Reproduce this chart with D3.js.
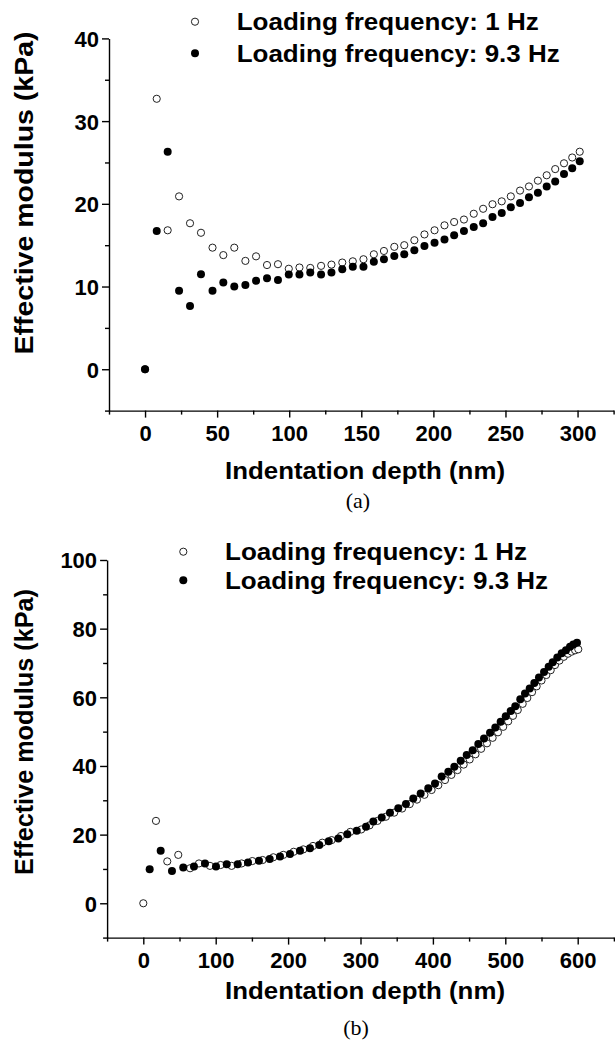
<!DOCTYPE html>
<html>
<head>
<meta charset="utf-8">
<script src="https://cdn.jsdelivr.net/npm/d3@7"></script>
<style>
  body { margin: 0; background: #fff; }
  svg text { font-family: Arial, "Liberation Sans", sans-serif; }
</style>
</head>
<body>
<script>
// ---- data, panel (a): both series share the same depths ----
var depthA = [0, 8.1, 15.7, 23.6, 31.2, 38.8, 46.8, 54.3, 61.9, 69.6, 77.0, 84.6, 92.2, 99.7,
  107.1, 114.6, 122.1, 129.3, 136.8, 144.1, 151.5, 158.7, 165.7, 172.9, 179.8, 186.8, 193.8,
  200.8, 207.7, 214.4, 221.2, 228.0, 234.5, 241.0, 247.4, 253.7, 260.1, 266.3, 272.5, 278.6,
  284.5, 290.6, 296.3, 301.5];
var modulusA1Hz = [0, 32.7, 16.8, 20.9, 17.65, 16.5, 14.7, 13.8, 14.7, 13.1, 13.65, 12.6, 12.7,
  12.15, 12.3, 12.25, 12.5, 12.65, 12.9, 13.05, 13.3, 13.9, 14.3, 14.8, 15.0, 15.6, 16.3, 16.8,
  17.4, 17.8, 18.1, 18.8, 19.4, 19.95, 20.3, 20.9, 21.6, 22.1, 22.8, 23.45, 24.2, 24.9, 25.6, 26.3];
var modulusA93Hz = [0, 16.7, 26.3, 9.5, 7.65, 11.5, 9.5, 10.5, 10.0, 10.2, 10.7, 11.0, 10.8,
  11.45, 11.45, 11.7, 11.45, 11.7, 12.1, 12.4, 12.4, 13.0, 13.3, 13.7, 13.9, 14.4, 14.9, 15.3,
  15.7, 16.2, 16.7, 17.2, 17.65, 18.4, 18.9, 19.6, 20.1, 20.8, 21.35, 22.1, 22.7, 23.6, 24.3, 25.15];

// ---- data, panel (b) ----
var depthB1Hz = [0, 17.5, 33.1, 48.3, 64.6, 76.9, 92.1, 106.8, 122, 135.8, 150.6, 164.8, 179.6,
  193.4, 207.7, 221, 234.4, 247.2, 260.1, 273, 285.9, 301, 312.5, 323.5, 335, 346.5, 357.5, 368,
  378, 388.3, 398.2, 407.5, 416.7, 425.5, 434, 442.5, 450.8, 458.8, 466.6, 474.7, 482.5, 489.9,
  497.1, 504, 510.6, 517.2, 524, 530.4, 536.9, 543.3, 550, 556.7, 562.7, 568.6, 574.8, 580.8,
  586.6, 591.6, 596.4, 600.8];
var modulusB1Hz = [0, 24.0, 12.2, 14.1, 10.2, 11.6, 10.9, 11.15, 10.9, 11.6, 12.3, 12.6, 13.4,
  14.1, 15.0, 15.7, 16.7, 17.65, 18.4, 19.6, 20.8, 21.5, 22.7, 24.0, 25.2, 26.4, 27.6, 28.9,
  30.2, 31.6, 33.0, 34.4, 35.9, 37.4, 38.8, 40.4, 41.9, 43.4, 45.0, 46.6, 48.2, 49.8, 51.4, 53.0,
  54.6, 56.3, 58.1, 59.8, 61.5, 63.2, 64.9, 66.5, 67.9, 69.4, 70.7, 71.8, 72.7, 73.3, 73.7, 74.0];
var depthB93Hz = [8.8, 24, 39.6, 55.2, 70, 85.2, 100.4, 115.2, 130.4, 144.6, 159.8, 174.6, 188.8,
  202.6, 216.4, 230.2, 243.1, 256.1, 269.4, 281.8, 294.8, 307.6, 317.7, 329.3, 340.7, 352.2,
  362.8, 372.9, 383.1, 393.6, 402.9, 412.1, 421.3, 429.6, 438.4, 446.7, 455.0, 462.7, 470.6,
  478.9, 486.2, 493.6, 500.6, 507.5, 513.8, 520.7, 527.2, 533.7, 540.1, 546.5, 553.5, 559.9,
  565.5, 571.8, 577.9, 583.8, 589.4, 593.9, 599.0];
var modulusB93Hz = [9.9, 15.3, 9.4, 10.4, 10.7, 11.6, 10.7, 11.4, 11.35, 11.9, 12.4, 12.9, 13.6,
  14.35, 15.3, 16.0, 17.0, 18.1, 18.9, 20.1, 21.1, 22.3, 23.8, 25.0, 26.4, 27.7, 28.9, 30.5, 32.0,
  33.5, 34.9, 36.9, 38.3, 39.8, 41.5, 43.2, 44.6, 46.4, 48.0, 49.7, 51.2, 52.9, 54.5, 56.0, 57.4,
  59.4, 61.1, 62.6, 64.2, 65.8, 67.4, 68.9, 70.2, 71.6, 72.8, 73.7, 74.7, 75.4, 75.9];

// ---- ticks and labels ----
var xTicksA = [0, 50, 100, 150, 200, 250, 300];
var xMinorA = [-25, 25, 75, 125, 175, 225, 275, 325];
var yTicksA = [0, 10, 20, 30, 40];
var yMinorA = [-5, 5, 15, 25, 35];
var xTicksB = [0, 100, 200, 300, 400, 500, 600];
var xMinorB = [-50, 50, 150, 250, 350, 450, 550, 650];
var yTicksB = [0, 20, 40, 60, 80, 100];
var yMinorB = [-10, 10, 30, 50, 70, 90];
var legendLabels = ["Loading frequency: 1 Hz", "Loading frequency: 9.3 Hz"];
var xTitle = "Indentation depth (nm)";
var yTitle = "Effective modulus (kPa)";

var svg = d3.select("body").append("svg")
    .attr("width", 615)
    .attr("height", 1041);

function drawPanel(cfg) {
  var x = d3.scaleLinear().domain(cfg.xDomain).range(cfg.xRange);
  var y = d3.scaleLinear().domain(cfg.yDomain).range(cfg.yRange);
  var g = svg.append("g");
  var x0 = cfg.xRange[0], yBase = cfg.yRange[0];

  //minor ticks first
  g.append("g").attr("transform", "translate(0," + yBase + ")")
    .call(d3.axisBottom(x).tickValues(cfg.xMinor).tickSize(4).tickSizeOuter(0).tickFormat(""))
    .call(function(a) { a.select(".domain").remove(); });
  g.append("g").attr("transform", "translate(" + x0 + ",0)")
    .call(d3.axisLeft(y).tickValues(cfg.yMinor).tickSize(4).tickSizeOuter(0).tickFormat(""))
    .call(function(a) { a.select(".domain").remove(); });

  //major axes
  var xa = g.append("g").attr("transform", "translate(0," + yBase + ")")
    .call(d3.axisBottom(x).tickValues(cfg.xTicks).tickSize(7).tickSizeOuter(0).tickPadding(8));
  var ya = g.append("g").attr("transform", "translate(" + x0 + ",0)")
    .call(d3.axisLeft(y).tickValues(cfg.yTicks).tickSize(7).tickSizeOuter(0).tickPadding(3));

  g.selectAll(".domain, .tick line").attr("stroke", "#000").attr("stroke-width", 1.4);
  xa.selectAll("text").attr("font-size", 22).attr("font-weight", "bold").attr("fill", "#000")
    .attr("font-family", "Arial, 'Liberation Sans', sans-serif");
  ya.selectAll("text").attr("font-size", 22).attr("font-weight", "bold").attr("fill", "#000")
    .attr("dy", "0.36em")
    .attr("font-family", "Arial, 'Liberation Sans', sans-serif");

  //axis titles
  g.append("text")
    .attr("x", cfg.xTitlePos[0]).attr("y", cfg.xTitlePos[1])
    .attr("text-anchor", "middle").attr("font-size", 23.5).attr("font-weight", "bold")
    .attr("textLength", 280).attr("lengthAdjust", "spacingAndGlyphs")
    .text(xTitle);
  g.append("text")
    .attr("transform", "translate(" + cfg.yTitlePos[0] + "," + cfg.yTitlePos[1] + ") rotate(-90)")
    .attr("text-anchor", "middle").attr("font-size", 25).attr("font-weight", "bold")
    .attr("textLength", cfg.yTitleLen).attr("lengthAdjust", "spacingAndGlyphs")
    .text(yTitle);
  g.append("text")
    .attr("x", cfg.captionPos[0]).attr("y", cfg.captionPos[1])
    .attr("text-anchor", "middle").attr("font-size", 22)
    .style("font-family", "'Liberation Serif', 'Times New Roman', serif")
    .text(cfg.caption);

  //data: open circles first, filled on top
  g.selectAll("circle.open").data(d3.zip(cfg.openX, cfg.openY)).enter().append("circle")
    .attr("class", "open")
    .attr("cx", function(d) { return x(d[0]); })
    .attr("cy", function(d) { return y(d[1]); })
    .attr("r", 3.6)
    .attr("fill", "#fff").attr("stroke", "#222").attr("stroke-width", 1);
  g.selectAll("circle.filled").data(d3.zip(cfg.fillX, cfg.fillY)).enter().append("circle")
    .attr("class", "filled")
    .attr("cx", function(d) { return x(d[0]); })
    .attr("cy", function(d) { return y(d[1]); })
    .attr("r", 4)
    .attr("fill", "#000");

  //legend
  var lx = cfg.legendPos[0], ly = cfg.legendPos[1], gap = cfg.legendGap;
  g.append("circle").attr("cx", lx).attr("cy", ly).attr("r", 3.6)
    .attr("fill", "#fff").attr("stroke", "#222").attr("stroke-width", 1);
  g.append("circle").attr("cx", lx).attr("cy", ly + gap).attr("r", 4).attr("fill", "#000");
  var widths = [302, 323];
  legendLabels.forEach(function(t, i) {
    g.append("text")
      .attr("x", cfg.legendTextX).attr("y", ly + i * gap + 8.5)
      .attr("font-size", 23.5).attr("font-weight", "bold")
      .attr("textLength", widths[i]).attr("lengthAdjust", "spacingAndGlyphs")
      .text(t);
  });
}

drawPanel({
  xDomain: [-25, 325], xRange: [109, 613.6],
  yDomain: [-5, 40], yRange: [410.6, 38.4],
  xTicks: xTicksA, xMinor: xMinorA, yTicks: yTicksA, yMinor: yMinorA,
  openX: depthA, openY: modulusA1Hz, fillX: depthA, fillY: modulusA93Hz,
  xTitlePos: [365, 479], yTitlePos: [33, 193], yTitleLen: 323,
  captionPos: [358, 508], caption: "(a)",
  legendPos: [195, 21.7], legendGap: 31.6, legendTextX: 236.7
});

drawPanel({
  xDomain: [-50, 650], xRange: [107.1, 613.9],
  yDomain: [-10, 100], yRange: [937.6, 560],
  xTicks: xTicksB, xMinor: xMinorB, yTicks: yTicksB, yMinor: yMinorB,
  openX: depthB1Hz, openY: modulusB1Hz, fillX: depthB93Hz, fillY: modulusB93Hz,
  xTitlePos: [365, 999], yTitlePos: [33, 732], yTitleLen: 286,
  captionPos: [356, 1035], caption: "(b)",
  legendPos: [183.3, 551.7], legendGap: 28.6, legendTextX: 225
});
</script>
</body>
</html>
